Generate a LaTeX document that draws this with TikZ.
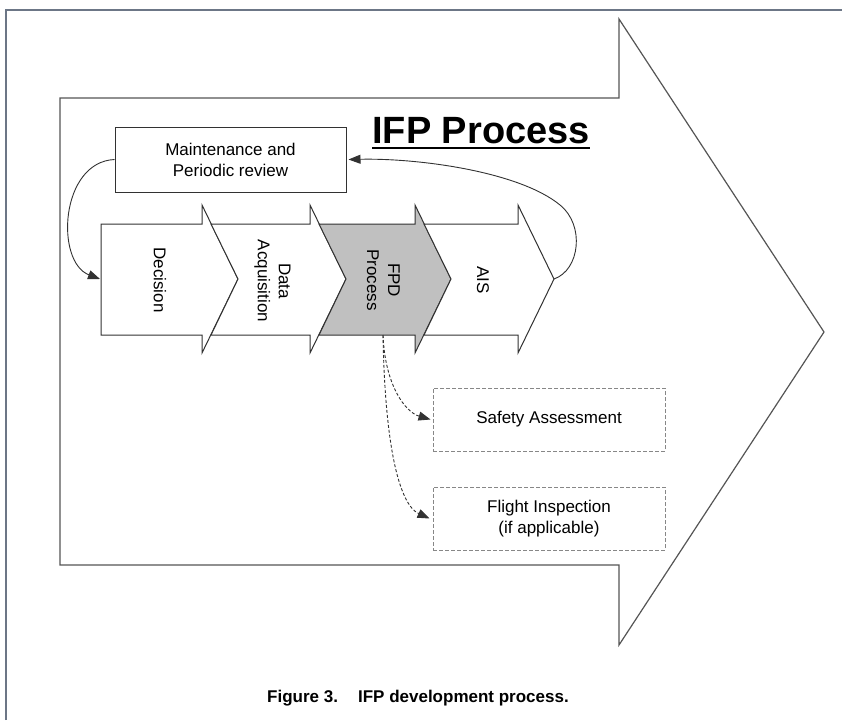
\documentclass[tikz,border=0pt]{standalone}
\usepackage{fontspec}
\setmainfont{Liberation Sans}
\usetikzlibrary{arrows.meta}
\definecolor{framegray}{RGB}{108,118,134}
\definecolor{linegray}{RGB}{50,50,50}
\definecolor{arrowgray}{RGB}{85,85,85}
\definecolor{chevfill}{RGB}{192,192,192}
\definecolor{dashgray}{RGB}{135,135,135}

\begin{document}
\begin{tikzpicture}[x=1pt,y=-1pt,
  outline/.style={draw=linegray,line width=1},
  chevron/.style={outline,fill=white},
  txt/.style={font=\fontsize{17}{21}\selectfont,align=center,inner sep=0},
  vtxt/.style={txt,rotate=-90},
  solidbox/.style={outline,fill=white,minimum width=231,minimum height=65,inner sep=0,txt},
  dashbox/.style={draw=dashgray,dash pattern=on 4pt off 2pt,line width=1,fill=white,minimum width=232,minimum height=63,inner sep=0,txt},
  flow/.style={draw=linegray,line width=0.9,-{Triangle[length=12pt,width=9pt]}},
  dashflow/.style={flow,dash pattern=on 3pt off 2pt},
]
\useasboundingbox (0,0) rectangle (842,720);
\fill[white] (0,0) rectangle (842,720);

% page frame
\draw[framegray,line width=2] (6,720) -- (6,10) -- (842,10);

% large background arrow
\draw[draw=arrowgray,line width=1.2,line join=miter]
  (60,98) -- (619,98) -- (619,19) -- (824,332) -- (619,645) -- (619,565) -- (60,565) -- cycle;

% title
\node[font=\fontsize{38}{44}\selectfont\bfseries,inner sep=0,anchor=base] (title) at (481,143) {IFP Process};
\draw[line width=2] ([yshift=-5pt]title.base west) -- ([yshift=-5pt]title.base east);

% chevron chain
\draw[chevron] (101,224) -- (202,224) -- (202,205) -- (238,279) -- (202,353) -- (202,335) -- (101,335) -- cycle;
\draw[chevron] (211,224) -- (310,224) -- (310,205) -- (346,279) -- (310,353) -- (310,335) -- (211,335) -- (238,279) -- cycle;
\draw[chevron,fill=chevfill] (319,224) -- (415,224) -- (415,205) -- (451,279) -- (415,353) -- (415,335) -- (319,335) -- (346,279) -- cycle;
\draw[chevron] (424,224) -- (518,224) -- (518,205) -- (554,279) -- (518,353) -- (518,335) -- (424,335) -- (451,279) -- cycle;

\node[vtxt] (decision) at (160,280) {Decision};
\node[vtxt] (data) at (272.5,281) {Data\\Acquisition};
\node[vtxt] (fpd) at (383.5,280) {FPD\\Process};
\node[vtxt] (ais) at (483,280) {AIS};

\coordinate (aistip) at (554,279);
\coordinate (decleft) at (100,279);
\coordinate (fpdfoot) at (383,335);

% boxes
\node[solidbox] (maint) at (230.5,159.5) {Maintenance and\\Periodic review};
\node[dashbox] (safety) at (549,419.5) {Safety Assessment};
\node[dashbox] (flight) at (549,518.5) {Flight Inspection\\(if applicable)};

% connectors
\draw[flow] (aistip) .. controls (580,270) and (585,225) .. (560,205)
            .. controls (520,172) and (420,158) .. ([xshift=2pt]maint.east);
\draw[flow] (maint.west) .. controls (60,162) and (55,262) .. (decleft);
\draw[dashflow] (fpdfoot) .. controls (385,385) and (405,412) .. ([xshift=-2pt]safety.west);
\draw[dashflow] (fpdfoot) .. controls (385,450) and (400,505) .. ([xshift=-3pt]flight.west);

% caption
\node[font=\fontsize{17}{20}\selectfont\bfseries,inner sep=0,anchor=base] (caption) at (418,702)
  {Figure 3.\hspace{20pt}IFP development process.};
\end{tikzpicture}
\end{document}
